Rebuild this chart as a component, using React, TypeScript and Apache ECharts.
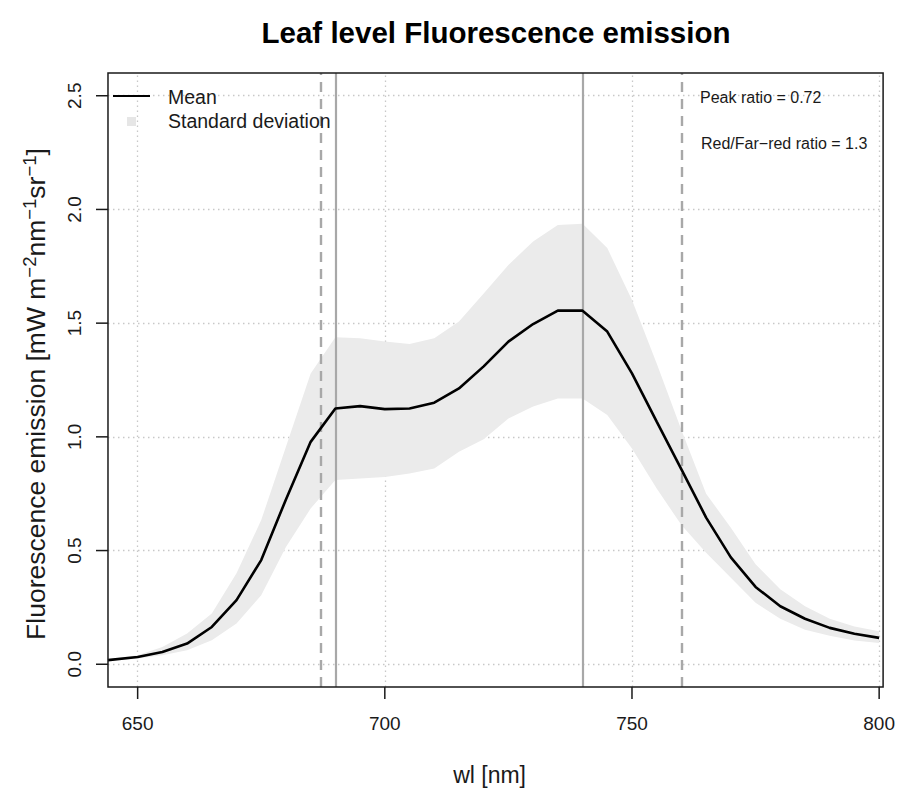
import React, { useEffect, useRef } from "react";
import * as echarts from "echarts";

// ---- data ----
const wavelengths = [644, 650, 655, 660, 665, 670, 675, 680, 685, 690, 695, 700, 705, 710, 715, 720, 725, 730, 735, 740, 745, 750, 755, 760, 765, 770, 775, 780, 785, 790, 795, 800];
const meanValues = [0.018, 0.032, 0.054, 0.091, 0.164, 0.282, 0.458, 0.725, 0.978, 1.125, 1.135, 1.122, 1.125, 1.15, 1.213, 1.31, 1.419, 1.496, 1.555, 1.555, 1.463, 1.279, 1.067, 0.857, 0.645, 0.47, 0.34, 0.255, 0.2, 0.16, 0.134, 0.116];
const upperValues = [0.022, 0.04, 0.076, 0.135, 0.223, 0.4, 0.634, 0.956, 1.279, 1.438, 1.434, 1.419, 1.408, 1.434, 1.507, 1.63, 1.756, 1.859, 1.932, 1.937, 1.83, 1.602, 1.323, 1.03, 0.75, 0.6, 0.44, 0.33, 0.255, 0.2, 0.166, 0.145];
const lowerValues = [0.015, 0.025, 0.04, 0.062, 0.106, 0.179, 0.304, 0.516, 0.685, 0.81, 0.817, 0.824, 0.839, 0.861, 0.934, 0.99, 1.081, 1.133, 1.169, 1.169, 1.096, 0.949, 0.773, 0.612, 0.49, 0.38, 0.27, 0.2, 0.152, 0.125, 0.105, 0.094];

const xTicks = [650, 700, 750, 800];
const yTicks = [0, 0.5, 1, 1.5, 2, 2.5];
const solidLines = [690, 740];
const dashedLines = [687, 760];

// plot box (data range shown inside the frame)
const X_MIN = 644;
const X_MAX = 800.8;
const Y_MIN = -0.1;
const Y_MAX = 2.6;

const titleText = "Leaf level Fluorescence emission";
const xName = "wl [nm]";
const legendMean = "Mean";
const legendSd = "Standard deviation";
const peakRatioText = "Peak ratio = 0.72";
const redFarRedText = "Red/Far\u2212red ratio = 1.3";

const FONT = "'Liberation Sans', Arial, Helvetica, sans-serif";
const INK = "#1a1a1a";
const TICK_LEN = 12;

// frame layout in pixels
const BOX_LEFT = 108;
const BOX_TOP = 73;
const BOX_RIGHT = 14;
const BOX_BOTTOM = 109;
const BOX_W = 898 - BOX_LEFT - BOX_RIGHT;
const BOX_H = 796 - BOX_TOP - BOX_BOTTOM;

// the grid is extended by the tick length on the left and bottom so the ticks lie inside it
const X_MIN_EXT = X_MIN - (TICK_LEN * (X_MAX - X_MIN)) / BOX_W;
const Y_MIN_EXT = Y_MIN - (TICK_LEN * (Y_MAX - Y_MIN)) / BOX_H;

export default function App() {
  const ref = useRef<HTMLDivElement>(null);

  useEffect(() => {
    if (!ref.current) return;
    const chart = echarts.init(ref.current, null, { renderer: "svg" });

    const pair = (arr: number[]) => wavelengths.map((w, i) => [w, arr[i]]);
    const bandData = wavelengths.map((w, i) => [w, lowerValues[i], upperValues[i]]);

    const gridLineData = [
      ...xTicks.map((v) => [{ coord: [v, Y_MIN] }, { coord: [v, Y_MAX] }]),
      ...yTicks.map((v) => [{ coord: [X_MIN, v] }, { coord: [X_MAX, v] }]),
    ];

    const refLineData = [
      ...solidLines.map((v) => [
        { coord: [v, Y_MIN], lineStyle: { color: "#a8a8a8", width: 2.2, type: "solid" } },
        { coord: [v, Y_MAX] },
      ]),
      ...dashedLines.map((v) => [
        { coord: [v, Y_MIN], lineStyle: { color: "#a8a8a8", width: 2.4, type: [10, 7] } },
        { coord: [v, Y_MAX] },
      ]),
    ];

    const option: any = {
      animation: false,
      backgroundColor: "#ffffff",
      title: {
        text: titleText,
        left: 491,
        top: 12,
        textAlign: "center",
        textStyle: { fontFamily: FONT, fontWeight: "bold", fontSize: 29.5, color: "#000" },
      },
      grid: {
        left: BOX_LEFT - TICK_LEN,
        top: BOX_TOP,
        right: BOX_RIGHT,
        bottom: BOX_BOTTOM - TICK_LEN,
        show: false,
      },
      xAxis: {
        type: "value",
        min: X_MIN_EXT,
        max: X_MAX,
        name: xName,
        nameLocation: "middle",
        nameGap: 64,
        nameTextStyle: { fontFamily: FONT, fontSize: 23, color: INK },
        axisLine: { show: false, onZero: false },
        axisTick: { show: false },
        axisLabel: { customValues: xTicks, margin: 15, fontSize: 19, fontFamily: FONT, color: INK },
        splitLine: { show: false },
      },
      yAxis: {
        type: "value",
        min: Y_MIN_EXT,
        max: Y_MAX,
        axisLine: { show: false, onZero: false },
        axisTick: { show: false },
        axisLabel: {
          customValues: yTicks,
          rotate: 90,
          margin: 12,
          fontSize: 19,
          fontFamily: FONT,
          color: INK,
          formatter: (v: number) => v.toFixed(1),
        },
        splitLine: { show: false },
      },
      graphic: [
        {
          type: "line",
          shape: { x1: 113, y1: 96, x2: 150, y2: 96 },
          style: { stroke: "#000", lineWidth: 2.2 },
          z: 20,
        },
        {
          type: "rect",
          shape: { x: 127, y: 117, width: 9, height: 9 },
          style: { fill: "#e6e6e6" },
          z: 20,
        },
        {
          type: "text",
          x: 168,
          y: 97,
          style: { text: legendMean, fontFamily: FONT, fontSize: 19.5, fill: INK, align: "left", verticalAlign: "middle" },
          z: 20,
        },
        {
          type: "text",
          x: 168,
          y: 121,
          style: { text: legendSd, fontFamily: FONT, fontSize: 19.5, fill: INK, align: "left", verticalAlign: "middle" },
          z: 20,
        },
        {
          type: "text",
          x: 700,
          y: 97,
          style: { text: peakRatioText, fontFamily: FONT, fontSize: 16, fill: INK, align: "left", verticalAlign: "middle" },
          z: 20,
        },
        {
          type: "text",
          x: 701,
          y: 143,
          style: { text: redFarRedText, fontFamily: FONT, fontSize: 16, fill: INK, align: "left", verticalAlign: "middle" },
          z: 20,
        },
        {
          type: "text",
          x: 36,
          y: 394,
          rotation: Math.PI / 2,
          style: {
            text: "{n|Fluorescence emission [mW m}{s|\u22122}{n|nm}{s|\u22121}{n|sr}{s|\u22121}{n|]}",
            align: "center",
            verticalAlign: "middle",
            fill: INK,
            fontFamily: FONT,
            rich: {
              n: { fontFamily: FONT, fontSize: 26.5, lineHeight: 32, fill: INK, verticalAlign: "middle" },
              s: { fontFamily: FONT, fontSize: 18.5, lineHeight: 18, fill: INK, verticalAlign: "top" },
            },
          },
          z: 20,
        },
      ],
      series: [
        {
          name: "grid",
          type: "line",
          data: [],
          silent: true,
          z: 1,
          markLine: {
            silent: true,
            symbol: ["none", "none"],
            label: { show: false },
            z: 1,
            lineStyle: { color: "#c8c8c8", width: 1.3, type: [1.5, 3.5] },
            emphasis: { disabled: true },
            data: gridLineData,
          },
        },
        {
          name: "frame",
          type: "custom",
          coordinateSystem: "cartesian2d",
          data: [[X_MIN, Y_MIN, X_MAX, Y_MAX]],
          encode: { x: [0, 2], y: [1, 3] },
          silent: true,
          clip: false,
          z: 9,
          renderItem: (params: any, api: any) => {
            const a = api.coord([api.value(0), api.value(3)]);
            const b = api.coord([api.value(2), api.value(1)]);
            return {
              type: "rect",
              shape: { x: a[0], y: a[1], width: b[0] - a[0], height: b[1] - a[1] },
              style: { fill: "none", stroke: INK, lineWidth: 1.5 },
            };
          },
        },
        {
          name: "xTicks",
          type: "custom",
          coordinateSystem: "cartesian2d",
          data: xTicks.map((v) => [v, Y_MIN]),
          encode: { x: 0, y: 1 },
          silent: true,
          clip: false,
          z: 9,
          renderItem: (params: any, api: any) => {
            const p = api.coord([api.value(0), api.value(1)]);
            return {
              type: "line",
              shape: { x1: p[0], y1: p[1], x2: p[0], y2: p[1] + TICK_LEN },
              style: { stroke: INK, lineWidth: 1.5 },
            };
          },
        },
        {
          name: "yTicks",
          type: "custom",
          coordinateSystem: "cartesian2d",
          data: yTicks.map((v) => [X_MIN, v]),
          encode: { x: 0, y: 1 },
          silent: true,
          clip: false,
          z: 9,
          renderItem: (params: any, api: any) => {
            const p = api.coord([api.value(0), api.value(1)]);
            return {
              type: "line",
              shape: { x1: p[0] - TICK_LEN, y1: p[1], x2: p[0], y2: p[1] },
              style: { stroke: INK, lineWidth: 1.5 },
            };
          },
        },
        {
          name: "Standard deviation",
          type: "custom",
          data: bandData,
          encode: { x: 0, y: [1, 2] },
          silent: true,
          clip: true,
          z: 2,
          renderItem: (params: any, api: any) => {
            if (params.dataIndex !== 0) return null;
            const pts: number[][] = [];
            for (let i = 0; i < wavelengths.length; i++) {
              pts.push(api.coord([wavelengths[i], upperValues[i]]));
            }
            for (let i = wavelengths.length - 1; i >= 0; i--) {
              pts.push(api.coord([wavelengths[i], lowerValues[i]]));
            }
            return { type: "polygon", shape: { points: pts }, style: { fill: "#ebebeb", stroke: "none" } };
          },
        },
        {
          name: "Mean",
          type: "line",
          data: pair(meanValues),
          symbol: "none",
          silent: true,
          lineStyle: { color: "#000", width: 2.6 },
          z: 5,
          markLine: {
            silent: true,
            symbol: ["none", "none"],
            label: { show: false },
            z: 3,
            emphasis: { disabled: true },
            data: refLineData,
          },
        },
      ],
    };

    chart.setOption(option);
    return () => chart.dispose();
  }, []);

  return (
    <div
      ref={ref}
      style={{ position: "fixed", left: 0, top: 0, width: 898, height: 796, background: "#fff" }}
    />
  );
}
